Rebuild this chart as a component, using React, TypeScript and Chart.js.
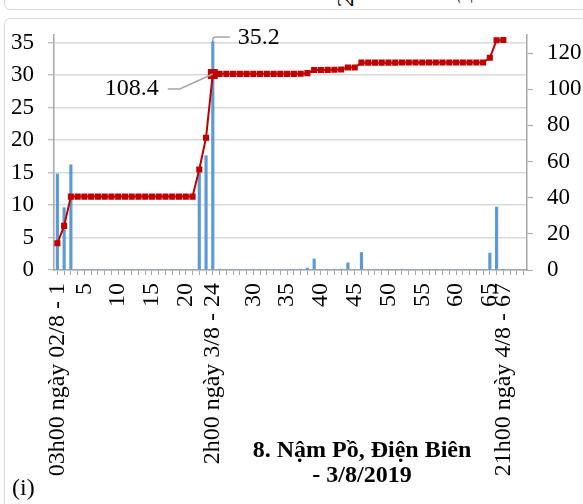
import { useEffect, useRef } from 'react';
import { Chart, registerables } from 'chart.js';

Chart.register(...registerables);

// ---- data ----
const hourLabels: string[] = [
  '03h00 ngày 02/8 - 1', '', '', '', '5', '', '', '', '', '10',
  '', '', '', '', '15', '', '', '', '', '20',
  '', '', '', '2h00 ngày 3/8 - 24', '', '', '', '', '', '30',
  '', '', '', '', '35', '', '', '', '', '40',
  '', '', '', '', '45', '', '', '', '', '50',
  '', '', '', '', '55', '', '', '', '', '60',
  '', '', '', '', '65', '', '21h00 ngày 4/8 - 67', '', '', '',
];

const rainfall: (number | null)[] = [
  14.8, 9.6, 16.2, 0, 0, 0, 0, 0, 0, 0,
  0, 0, 0, 0, 0, 0, 0, 0, 0, 0,
  0, 15.0, 17.6, 35.2, 0.1, 0, 0, 0, 0, 0,
  0, 0, 0, 0, 0, 0, 0.1, 0.3, 1.7, 0,
  0.1, 0.1, 0.1, 1.1, 0, 2.7, 0, 0, 0, 0,
  0, 0.1, 0, 0, 0, 0, 0, 0, 0, 0,
  0, 0, 0, 0, 2.6, 9.7, 0.1, null, null, null,
];

const accumulated: (number | null)[] = [
  14.8, 24.4, 40.6, 40.6, 40.6, 40.6, 40.6, 40.6, 40.6, 40.6,
  40.6, 40.6, 40.6, 40.6, 40.6, 40.6, 40.6, 40.6, 40.6, 40.6,
  40.6, 55.6, 73.2, 108.4, 108.5, 108.5, 108.5, 108.5, 108.5, 108.5,
  108.5, 108.5, 108.5, 108.5, 108.5, 108.5, 108.6, 108.9, 110.6, 110.6,
  110.7, 110.8, 110.9, 112.0, 112.0, 114.7, 114.7, 114.7, 114.7, 114.7,
  114.7, 114.8, 114.8, 114.8, 114.8, 114.8, 114.8, 114.8, 114.8, 114.8,
  114.8, 114.8, 114.8, 114.8, 117.4, 127.1, 127.2, null, null, null,
];

const leftAxisMax = 36.2;
const leftAxisStep = 5;
const rightAxisMax = 130;
const rightAxisStep = 20;
const highlightIndex = 23;
const barLabelText = '35.2';
const lineLabelText = '108.4';
const titleLines = ['8. Nậm Pồ, Điện Biên', '- 3/8/2019'];
const panelTag = '(i)';

// ---- style ----
const FONT = "'Liberation Serif', 'Times New Roman', serif";
const FS = 23;
const FSX = 24;
const GRID = '#d9d9d9';
const AXIS = '#a6a6a6';
const BAR = '#5b9bd5';
const LINE = '#c00000';

const annotationPlugin = {
  id: 'annot',
  afterDatasetsDraw(chart: any) {
    const ctx = chart.ctx as CanvasRenderingContext2D;
    const pt = chart.getDatasetMeta(0).data[highlightIndex];
    const bar = chart.getDatasetMeta(1).data[highlightIndex];
    ctx.save();
    ctx.strokeStyle = AXIS;
    ctx.lineWidth = 1.5;
    const bx = bar.x;
    const by = bar.y;
    ctx.beginPath();
    ctx.moveTo(bx, by);
    ctx.lineTo(bx, by - 2);
    ctx.quadraticCurveTo(bx, by - 4.5, bx + 3, by - 4.5);
    ctx.lineTo(bx + 17, by - 4.5);
    ctx.stroke();
    const px = pt.x;
    const py = pt.y;
    ctx.beginPath();
    ctx.moveTo(px, py);
    ctx.lineTo(px - 33, py + 15);
    ctx.lineTo(px - 45, py + 15);
    ctx.stroke();

    ctx.fillStyle = '#000';
    ctx.font = `${FSX}px ${FONT}`;
    ctx.textBaseline = 'middle';
    ctx.textAlign = 'left';
    ctx.fillText(barLabelText, bx + 25, by - 3.5);
    ctx.textAlign = 'right';
    ctx.fillText(lineLabelText, px - 54, py + 15);
    ctx.restore();
  },
};

function ChartCanvas() {
  const ref = useRef<HTMLCanvasElement | null>(null);
  useEffect(() => {
    if (!ref.current) return;
    const pointRadius = accumulated.map((_, i) => (i === highlightIndex ? 7 : 4.3));
    const chart = new Chart(ref.current, {
      type: 'bar',
      data: {
        labels: hourLabels,
        datasets: [
          {
            type: 'line',
            data: accumulated,
            yAxisID: 'y1',
            borderColor: LINE,
            borderWidth: 2,
            backgroundColor: LINE,
            pointStyle: 'rect',
            pointRadius,
            pointBackgroundColor: LINE,
            pointBorderWidth: 0,
            tension: 0,
            order: 0,
          } as any,
          {
            type: 'bar',
            data: rainfall,
            yAxisID: 'y',
            backgroundColor: BAR,
            barThickness: 2.5,
            borderWidth: 0,
            order: 1,
          } as any,
        ],
      },
      options: {
        responsive: false,
        animation: false,
        devicePixelRatio: 1,
        layout: { padding: { top: 35, left: 0, right: 0, bottom: 0 } },
        plugins: {
          legend: { display: false },
          title: { display: false },
          tooltip: { enabled: false },
        },
        scales: {
          x: {
            type: 'category',
            offset: true,
            afterFit: (a: any) => { a.height = 234; },
            grid: {
              display: true,
              offset: false,
              drawOnChartArea: false,
              drawTicks: true,
              tickLength: 5,
              tickColor: AXIS,
              tickWidth: 1,
            },
            border: { display: true, color: AXIS, width: 1.5 },
            ticks: {
              autoSkip: false,
              minRotation: 90,
              maxRotation: 90,
              padding: 8,
              color: '#000',
              font: { family: FONT, size: FSX },
            },
          },
          y: {
            type: 'linear',
            position: 'left',
            min: 0,
            max: leftAxisMax,
            afterFit: (a: any) => { a.width = 54; },
            grid: {
              color: GRID,
              lineWidth: 1.5,
              drawTicks: true,
              tickLength: 6,
              tickColor: AXIS,
              tickWidth: 1,
            },
            border: { display: true, color: AXIS, width: 1.5 },
            ticks: {
              stepSize: leftAxisStep,
              includeBounds: false,
              padding: 14,
              color: '#000',
              font: { family: FONT, size: FS },
            },
          },
          y1: {
            type: 'linear',
            position: 'right',
            min: 0,
            max: rightAxisMax,
            afterFit: (a: any) => { a.width = 56; },
            grid: {
              drawOnChartArea: false,
              drawTicks: true,
              tickLength: 6,
              tickColor: AXIS,
              tickWidth: 1,
            },
            border: { display: true, color: AXIS, width: 1.5 },
            ticks: {
              stepSize: rightAxisStep,
              includeBounds: false,
              padding: 14,
              color: '#000',
              font: { family: FONT, size: FS },
            },
          },
        },
      } as any,
      plugins: [annotationPlugin],
    });
    return () => chart.destroy();
  }, []);
  return <canvas ref={ref} width={583} height={504} style={{ position: 'absolute', left: 0, top: 0 }} />;
}

export default function App() {
  const frame = '1.5px solid #d9d9d9';
  return (
    <div style={{ position: 'absolute', left: 0, top: 0, width: 583, height: 504, overflow: 'hidden', background: '#fff', fontFamily: FONT }}>
      <div style={{ position: 'absolute', left: 4, top: -60, width: 700, height: 70, border: frame, borderRadius: 6, boxSizing: 'border-box' }} />
      <span style={{ position: 'absolute', left: 334, top: 7, fontSize: FS, lineHeight: 1, transform: 'rotate(-90deg)', transformOrigin: 'left top', whiteSpace: 'nowrap' }}>2</span>
      <span style={{ position: 'absolute', left: 453, top: 5, fontSize: FS, lineHeight: 1, transform: 'rotate(-90deg)', transformOrigin: 'left top', whiteSpace: 'nowrap' }}>1</span>
      <div style={{ position: 'absolute', left: 4, top: 18, width: 700, height: 600, border: frame, borderRadius: 6, boxSizing: 'border-box' }} />
      <ChartCanvas />
      <div style={{ position: 'absolute', left: 212, top: 437, width: 300, textAlign: 'center', fontWeight: 'bold', fontSize: FSX, lineHeight: '25px', color: '#000' }}>
        {titleLines.map((t) => (<div key={t}>{t}</div>))}
      </div>
      <div style={{ position: 'absolute', left: 12, top: 475, fontSize: FSX, lineHeight: '25px', color: '#000' }}>{panelTag}</div>
    </div>
  );
}
